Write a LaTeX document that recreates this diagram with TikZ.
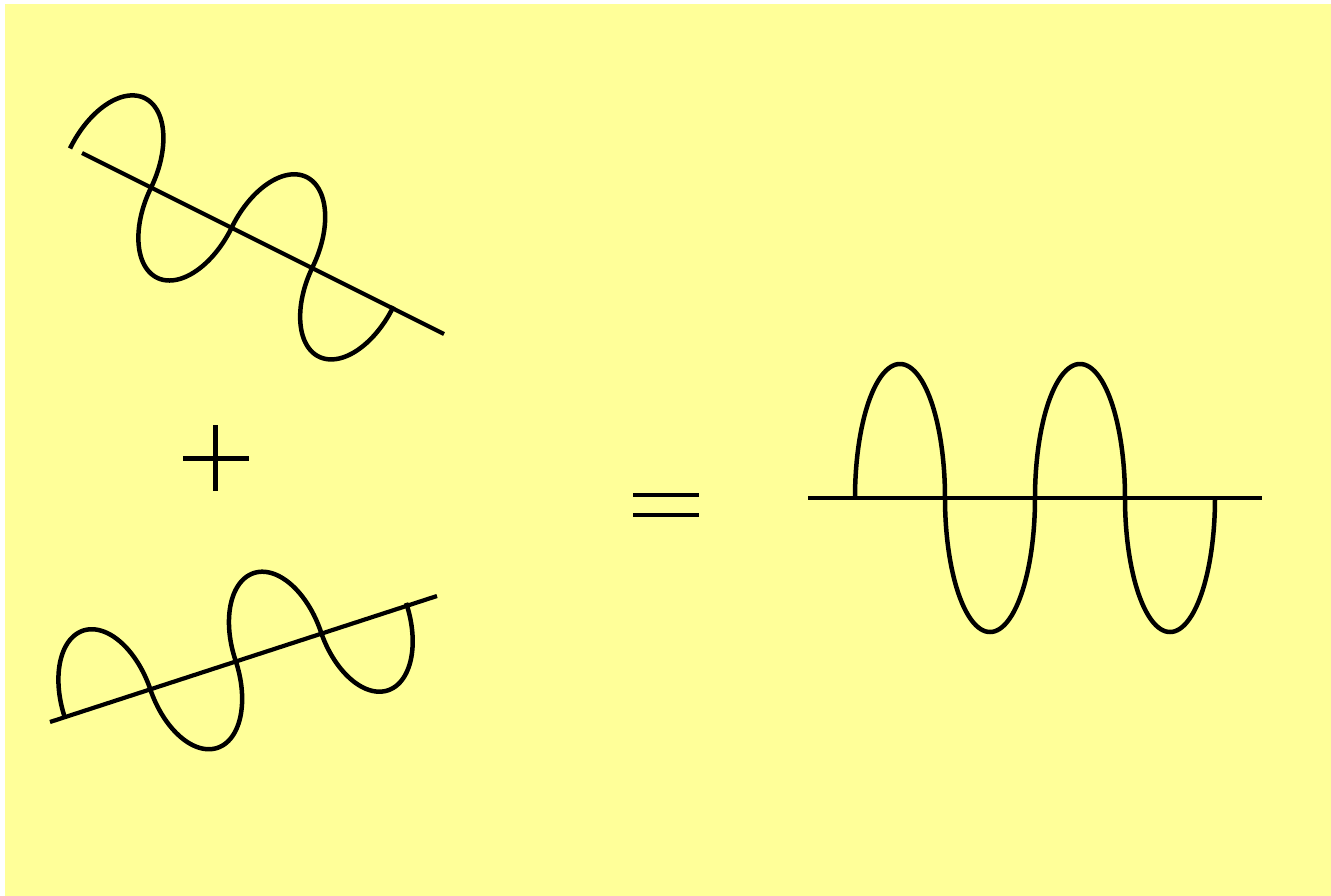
\documentclass[tikz,border=0pt]{standalone}
\definecolor{bgyellow}{HTML}{FFFF99}
\begin{document}
\begin{tikzpicture}[x=1pt,y=1pt,
  wave/.style={line width=4.5pt, line join=round},
  axisline/.style={line width=4.2pt},
  signbar/.style={line width=4.4pt}]
\useasboundingbox (0,0) rectangle (1331,-896);
\fill[white] (0,0) rectangle (1331,-896);
\fill[bgyellow] (5,-4) rectangle (1331,-896);

% ---- upper tilted wave ----
\coordinate (a1s) at (82,-153);
\coordinate (a1e) at (444,-334);
\begin{scope}[shift={(70,-148.5)}, rotate=-26]
  \draw[wave] plot[domain=0:720, samples=361]
    ({90*floor(\x/180)+45*(1-cos(mod(\x,180)))}, {78*sin(\x)});
\end{scope}
\draw[axisline] (a1s) -- (a1e);

% ---- lower tilted wave ----
\coordinate (a2s) at (50,-722);
\coordinate (a2e) at (437,-596);
\begin{scope}[shift={(65,-718)}, rotate=18.64]
  \draw[wave] plot[domain=0:720, samples=361]
    ({90*floor(\x/180)+45*(1-cos(mod(\x,180)))}, {77*sin(\x)});
\end{scope}
\draw[axisline] (a2s) -- (a2e);

% ---- plus sign ----
\coordinate (pt) at (215.5,-425);
\coordinate (pb) at (215.5,-491);
\coordinate (pl) at (183,-458.5);
\coordinate (pr) at (249,-458.5);
\draw[signbar] (pt) -- (pb);
\draw[signbar] (pl) -- (pr);

% ---- equals sign ----
\coordinate (e1l) at (633,-495);
\coordinate (e1r) at (699,-495);
\coordinate (e2l) at (633,-515);
\coordinate (e2r) at (699,-515);
\draw[signbar] (e1l) -- (e1r);
\draw[signbar] (e2l) -- (e2r);

% ---- resulting wave ----
\coordinate (a3s) at (808,-498);
\coordinate (a3e) at (1262,-498);
\draw[wave] plot[domain=0:720, samples=361]
  ({855+90*floor(\x/180)+45*(1-cos(mod(\x,180)))}, {-498+134*sin(\x)});
\draw[axisline] (a3s) -- (a3e);
\end{tikzpicture}
\end{document}
